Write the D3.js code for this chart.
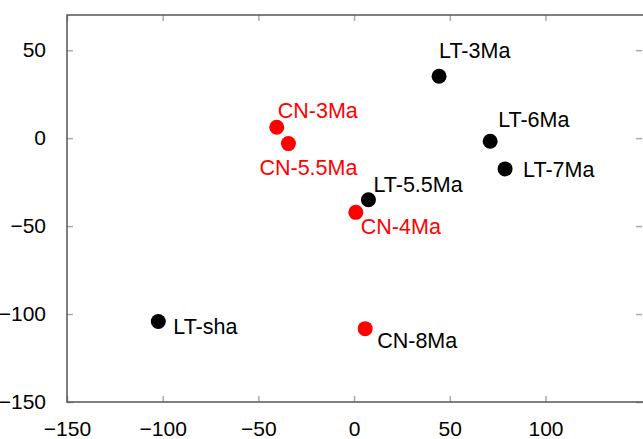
<!DOCTYPE html>
<html><head><meta charset="utf-8">
<script src="https://cdn.jsdelivr.net/npm/d3@7"></script>
<style>body{margin:0;background:#fff}svg{display:block}text{font-family:"Liberation Sans",Arial,sans-serif}</style>
</head><body><div id="c"></div>
<script>
const labels = ["LT-3Ma","LT-6Ma","LT-7Ma","LT-5.5Ma","CN-4Ma","CN-3Ma","CN-5.5Ma","LT-sha","CN-8Ma"];
const xValues = [44.4, 71.1, 78.9, 7.5, 0.9, -40.4, -34.3, -102.3, 5.8];
const yValues = [35.2, -1.8, -17.5, -35, -42.2, 6.2, -3.1, -104.2, -108.3];
const groups = ["LT","LT","LT","LT","CN","CN","CN","LT","CN"];
const labelGroups = ["LT","LT","LT","LT","CN","CN","CN","LT","LT"];
const xTicks = [-150,-100,-50,0,50,100];
const yTicks = [-150,-100,-50,0,50];

// layout-only: label offsets in px from each point
const labelDx = [0, 8, 18, 5, 5, 1, -29, 15, 12];
const labelDy = [-18, -14, 8, -8, 22, -9, 31, 13, 19];

const W = 643, H = 439;
const L = 67, R = 645, T = 15, B = 402;
const x = d3.scaleLinear().domain([-150, 152]).range([L, R]);
const y = d3.scaleLinear().domain([-150, 70]).range([B, T]);
const color = {LT:"#000000", CN:"#ff0000"};

const svg = d3.select("#c").append("svg").attr("width", W).attr("height", H);

const tickCol = "#aaaaaa", axisCol = "#555555";
const gB = svg.append("g").attr("transform", `translate(0,${B})`)
  .call(d3.axisBottom(x).tickValues(xTicks).tickSize(-6).tickPadding(19).tickFormat(d3.format("d")));
const gTop = svg.append("g").attr("transform", `translate(0,${T})`)
  .call(d3.axisTop(x).tickValues(xTicks).tickSize(-6).tickFormat(""));
const gL = svg.append("g").attr("transform", `translate(${L},0)`)
  .call(d3.axisLeft(y).tickValues(yTicks).tickSize(-6).tickPadding(21).tickFormat(d3.format("d")));
const gR = svg.append("g").attr("transform", `translate(${R-3},0)`)
  .call(d3.axisRight(y).tickValues(yTicks).tickSize(-6).tickFormat(""));
[gB,gTop,gL,gR].forEach(g=>{
  g.select(".domain").remove();
  g.selectAll(".tick line").attr("stroke", tickCol).attr("stroke-width",1.5);
  g.selectAll(".tick text").attr("fill","#000").style("font-size","21px").style("font-family","'Liberation Sans',Arial,sans-serif");
});
gB.selectAll(".tick text").attr("dy","0.71em");
svg.append("path").attr("d",`M${R},${T}H${L}V${B}H${R}`)
  .attr("fill","none").attr("stroke",axisCol).attr("stroke-width",1.5);

const data = labels.map((l,i)=>({l, x:xValues[i], y:yValues[i], g:groups[i], lg:labelGroups[i], dx:labelDx[i], dy:labelDy[i]}));
svg.append("g").selectAll("circle").data(data).join("circle")
  .attr("cx",d=>x(d.x)).attr("cy",d=>y(d.y)).attr("r",7.5)
  .attr("fill",d=>color[d.g]);
svg.append("g").selectAll("text").data(data).join("text")
  .attr("x",d=>x(d.x)+d.dx).attr("y",d=>y(d.y)+d.dy)
  .attr("fill",d=>color[d.lg]).style("font-size","21.5px")
  .text(d=>d.l);
</script></body></html>
